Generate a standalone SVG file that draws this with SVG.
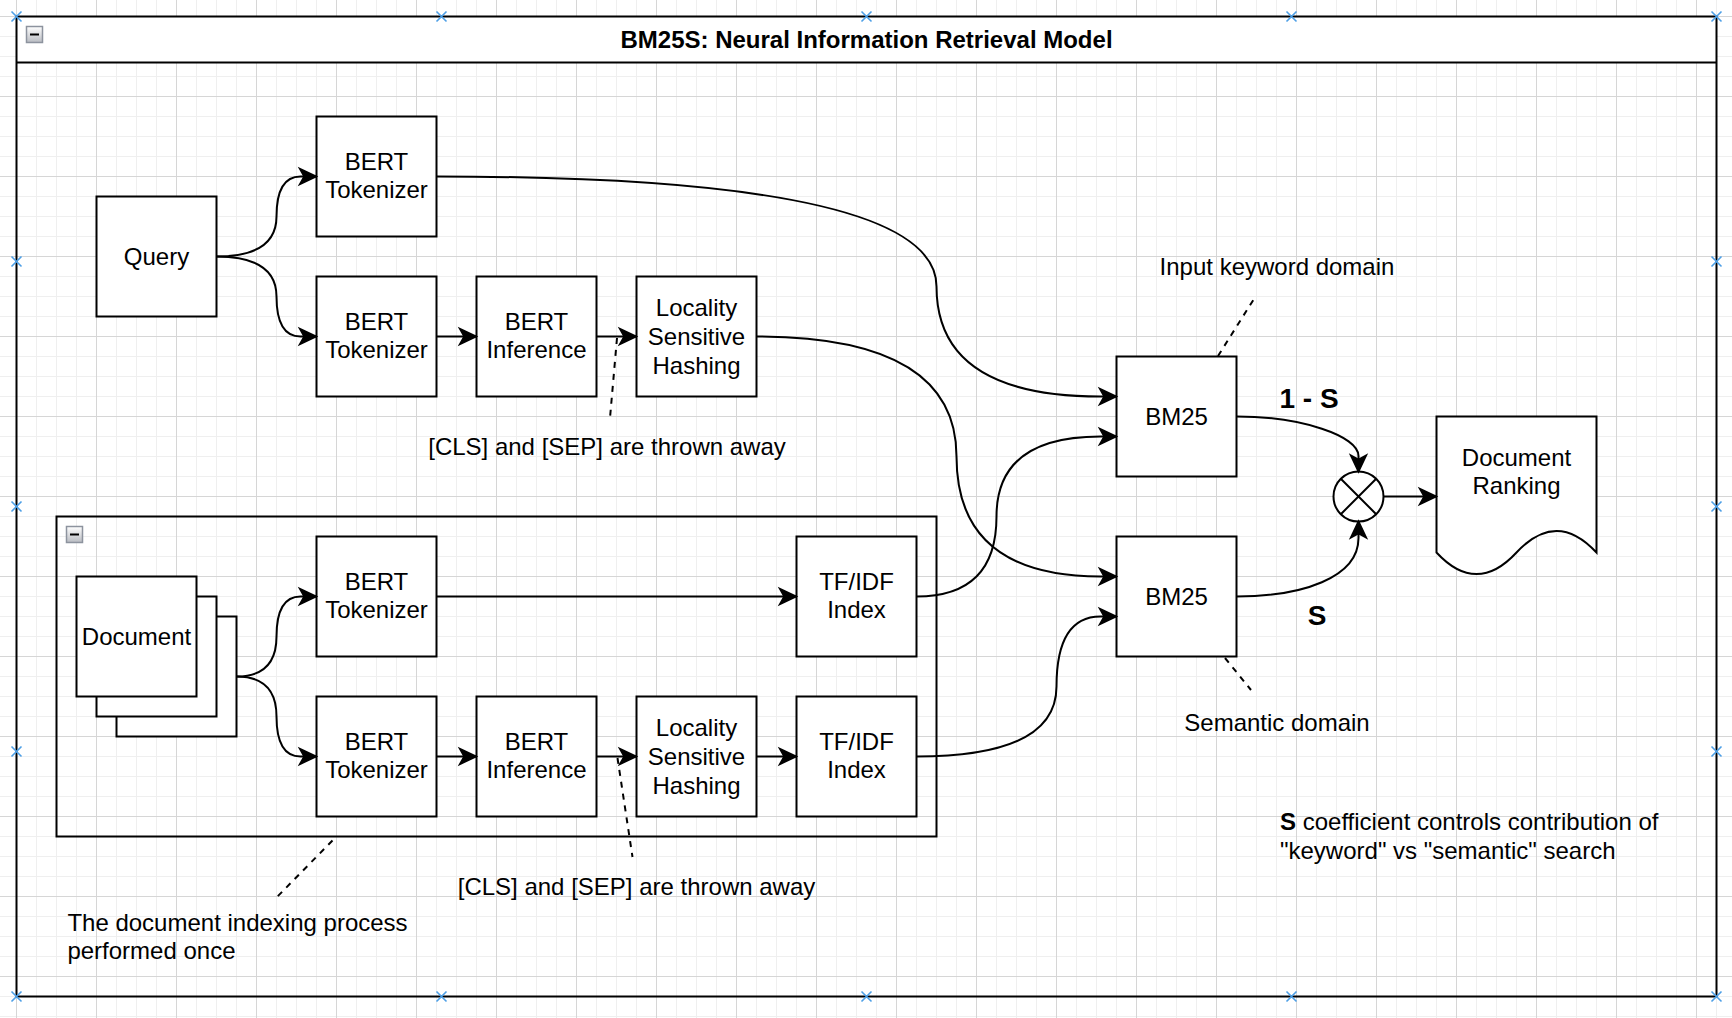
<svg xmlns="http://www.w3.org/2000/svg" width="1732" height="1018" viewBox="0 0 1732 1018">
<style>
.box{fill:#fff;stroke:#000;stroke-width:2}
.frame{fill:none;stroke:#000;stroke-width:2}
.lbl{font-family:"Liberation Sans",Arial,Helvetica,sans-serif;font-size:24px;fill:#000;text-anchor:middle}
.note{font-family:"Liberation Sans",Arial,Helvetica,sans-serif;font-size:24px;fill:#000}
.bold{font-weight:bold}
.big{font-family:"Liberation Sans",Arial,Helvetica,sans-serif;font-size:28px;font-weight:bold;fill:#000;text-anchor:middle}
.edge{fill:none;stroke:#000;stroke-width:2;marker-end:url(#arr)}
.dash{fill:none;stroke:#000;stroke-width:2;stroke-dasharray:6 6}
.hx{fill:none;stroke:#4d9fe6;stroke-width:1.6}
</style>
<defs>
<pattern id="grid" patternUnits="userSpaceOnUse" x="16" y="16" width="80" height="80">
<path d="M20.5,0V80M40.5,0V80M60.5,0V80M0,20.5H80M0,40.5H80M0,60.5H80" stroke="#efefef" stroke-width="1" fill="none"/>
<path d="M0.5,0V80M0,0.5H80" stroke="#d6d6d6" stroke-width="1" fill="none"/>
</pattern>
<linearGradient id="ig" x1="0" y1="0" x2="0" y2="1">
<stop offset="0" stop-color="#ffffff"/>
<stop offset="1" stop-color="#b9bcc2"/>
</linearGradient>
<marker id="arr" markerUnits="userSpaceOnUse" markerWidth="24" markerHeight="22" refX="19" refY="10" orient="auto" overflow="visible">
<path d="M19,10 L2,2 L6.5,10 L2,18 Z" fill="#000" stroke="#000" stroke-width="1.5"/>
</marker>
<g id="hxm"><path class="hx" d="M-5,-5L5,5M-5,5L5,-5"/></g>
</defs>

<rect x="0" y="0" width="1732" height="1018" fill="#fff"/>
<rect x="0" y="0" width="1732" height="1018" fill="url(#grid)"/>

<g id="frame">
<rect x="16.5" y="16.5" width="1700" height="46" fill="#fff" stroke="none"/>
<rect class="frame" x="16.5" y="16.5" width="1700" height="980"/>
<path d="M16.5,62.5H1716.5" stroke="#000" stroke-width="2"/>
<rect x="26.5" y="26.5" width="16" height="16" fill="url(#ig)" stroke="#8d939e" stroke-width="1.5"/>
<path d="M30,34.5H39" stroke="#000" stroke-width="2"/>
<text class="lbl bold" x="866.5" y="48">BM25S: Neural Information Retrieval Model</text>
</g>

<g id="markers">
<use href="#hxm" x="16.5" y="16.5"/><use href="#hxm" x="441.5" y="16.5"/><use href="#hxm" x="866.5" y="16.5"/><use href="#hxm" x="1291.5" y="16.5"/><use href="#hxm" x="1716.5" y="16.5"/>
<use href="#hxm" x="16.5" y="996.5"/><use href="#hxm" x="441.5" y="996.5"/><use href="#hxm" x="866.5" y="996.5"/><use href="#hxm" x="1291.5" y="996.5"/><use href="#hxm" x="1716.5" y="996.5"/>
<use href="#hxm" x="16.5" y="261.5"/><use href="#hxm" x="16.5" y="506.5"/><use href="#hxm" x="16.5" y="751.5"/>
<use href="#hxm" x="1716.5" y="261.5"/><use href="#hxm" x="1716.5" y="506.5"/><use href="#hxm" x="1716.5" y="751.5"/>
</g>

<g id="indexing-group">
<rect class="frame" x="56.5" y="516.5" width="880" height="320"/>
<rect x="66.5" y="526.5" width="16" height="16" fill="url(#ig)" stroke="#8d939e" stroke-width="1.5"/>
<path d="M70,534.5H79" stroke="#000" stroke-width="2"/>
</g>

<g id="query"><rect class="box" x="96.5" y="196.5" width="120" height="120"/><text class="lbl" x="156.5" y="265.1">Query</text></g>
<g id="tok1"><rect class="box" x="316.5" y="116.5" width="120" height="120"/><text class="lbl" x="376.5" y="169.6">BERT</text><text class="lbl" x="376.5" y="198.4">Tokenizer</text></g>
<g id="tok2"><rect class="box" x="316.5" y="276.5" width="120" height="120"/><text class="lbl" x="376.5" y="329.6">BERT</text><text class="lbl" x="376.5" y="358.4">Tokenizer</text></g>
<g id="inf1"><rect class="box" x="476.5" y="276.5" width="120" height="120"/><text class="lbl" x="536.5" y="329.6">BERT</text><text class="lbl" x="536.5" y="358.4">Inference</text></g>
<g id="lsh1"><rect class="box" x="636.5" y="276.5" width="120" height="120"/><text class="lbl" x="696.5" y="316.3">Locality</text><text class="lbl" x="696.5" y="345.1">Sensitive</text><text class="lbl" x="696.5" y="373.9">Hashing</text></g>
<g id="bm25a"><rect class="box" x="1116.5" y="356.5" width="120" height="120"/><text class="lbl" x="1176.5" y="425.1">BM25</text></g>
<g id="bm25b"><rect class="box" x="1116.5" y="536.5" width="120" height="120"/><text class="lbl" x="1176.5" y="605.1">BM25</text></g>
<g id="sum"><circle cx="1358.5" cy="496.5" r="25" fill="#fff" stroke="#000" stroke-width="2"/><path d="M1340.8,478.8L1376.2,514.2M1340.8,514.2L1376.2,478.8" stroke="#000" stroke-width="2"/></g>
<g id="ranking"><path class="box" d="M1436.5,416.5H1596.5V552.5Q1556.5,509.3 1516.5,552.5Q1476.5,595.7 1436.5,552.5Z"/><text class="lbl" x="1516.5" y="465.6">Document</text><text class="lbl" x="1516.5" y="494.4">Ranking</text></g>
<g id="documents"><rect class="box" x="116.5" y="616.5" width="120" height="120"/><rect class="box" x="96.5" y="596.5" width="120" height="120"/><rect class="box" x="76.5" y="576.5" width="120" height="120"/><text class="lbl" x="136.5" y="645.1">Document</text></g>
<g id="tok3"><rect class="box" x="316.5" y="536.5" width="120" height="120"/><text class="lbl" x="376.5" y="589.6">BERT</text><text class="lbl" x="376.5" y="618.4">Tokenizer</text></g>
<g id="tf1"><rect class="box" x="796.5" y="536.5" width="120" height="120"/><text class="lbl" x="856.5" y="589.6">TF/IDF</text><text class="lbl" x="856.5" y="618.4">Index</text></g>
<g id="tok4"><rect class="box" x="316.5" y="696.5" width="120" height="120"/><text class="lbl" x="376.5" y="749.6">BERT</text><text class="lbl" x="376.5" y="778.4">Tokenizer</text></g>
<g id="inf2"><rect class="box" x="476.5" y="696.5" width="120" height="120"/><text class="lbl" x="536.5" y="749.6">BERT</text><text class="lbl" x="536.5" y="778.4">Inference</text></g>
<g id="lsh2"><rect class="box" x="636.5" y="696.5" width="120" height="120"/><text class="lbl" x="696.5" y="736.3">Locality</text><text class="lbl" x="696.5" y="765.1">Sensitive</text><text class="lbl" x="696.5" y="793.9">Hashing</text></g>
<g id="tf2"><rect class="box" x="796.5" y="696.5" width="120" height="120"/><text class="lbl" x="856.5" y="749.6">TF/IDF</text><text class="lbl" x="856.5" y="778.4">Index</text></g>

<g id="connectors">
<path class="edge" d="M216.5,256.5Q276.5,256.5 276.5,216.5Q276.5,176.5 300.5,176.5L316.5,176.5"/>
<path class="edge" d="M216.5,256.5Q276.5,256.5 276.5,296.5Q276.5,336.5 300.5,336.5L316.5,336.5"/>
<path class="edge" d="M436.5,336.5L476.5,336.5"/>
<path class="edge" d="M596.5,336.5L636.5,336.5"/>
<path class="edge" d="M436.5,176.5Q936.5,176.5 936.5,286.5Q936.5,396.5 1100.5,396.5L1116.5,396.5"/>
<path class="edge" d="M756.5,336.5Q956.5,336.5 956.5,456.5Q956.5,576.5 1100.5,576.5L1116.5,576.5"/>
<path class="edge" d="M236.5,676.5Q276.5,676.5 276.5,636.5Q276.5,596.5 300.5,596.5L316.5,596.5"/>
<path class="edge" d="M236.5,676.5Q276.5,676.5 276.5,716.5Q276.5,756.5 300.5,756.5L316.5,756.5"/>
<path class="edge" d="M436.5,596.5L796.5,596.5"/>
<path class="edge" d="M436.5,756.5L476.5,756.5"/>
<path class="edge" d="M596.5,756.5L636.5,756.5"/>
<path class="edge" d="M756.5,756.5L796.5,756.5"/>
<path class="edge" d="M916.5,596.5Q996.5,596.5 996.5,516.5Q996.5,436.5 1100.5,436.5L1116.5,436.5"/>
<path class="edge" d="M916.5,756.5Q1056.5,756.5 1056.5,686.5Q1056.5,616.5 1100.5,616.5L1116.5,616.5"/>
<path class="edge" d="M1236.5,416.5C1301.5,416.5 1358.5,436 1358.5,456L1358.5,472"/>
<path class="edge" d="M1236.5,596.5C1301.5,596.5 1358.5,578 1358.5,538L1358.5,521"/>
<path class="edge" d="M1383.5,496.5L1436.5,496.5"/>
</g>

<g id="edge-labels">
<text class="big" x="1309" y="408">1 - S</text>
<text class="big" x="1317" y="625">S</text>
</g>

<g id="annotations">
<path class="dash" d="M617,338L610,418"/>
<text class="lbl" x="607" y="455">[CLS] and [SEP] are thrown away</text>
<path class="dash" d="M617.5,758L632.5,857"/>
<text class="lbl" x="636.5" y="895">[CLS] and [SEP] are thrown away</text>
<path class="dash" d="M332.5,840.5L277,897"/>
<text class="note" x="67.4" y="930.5">The document indexing process</text>
<text class="note" x="67.4" y="959.3">performed once</text>
<path class="dash" d="M1218,356L1255.5,296.5"/>
<text class="lbl" x="1277" y="275">Input keyword domain</text>
<path class="dash" d="M1225,658L1251,690"/>
<text class="lbl" x="1277" y="730.7">Semantic domain</text>
<text class="note" x="1280" y="830"><tspan class="bold">S</tspan> coefficient controls contribution of</text>
<text class="note" x="1280" y="858.8">"keyword" vs "semantic" search</text>
</g>
</svg>
